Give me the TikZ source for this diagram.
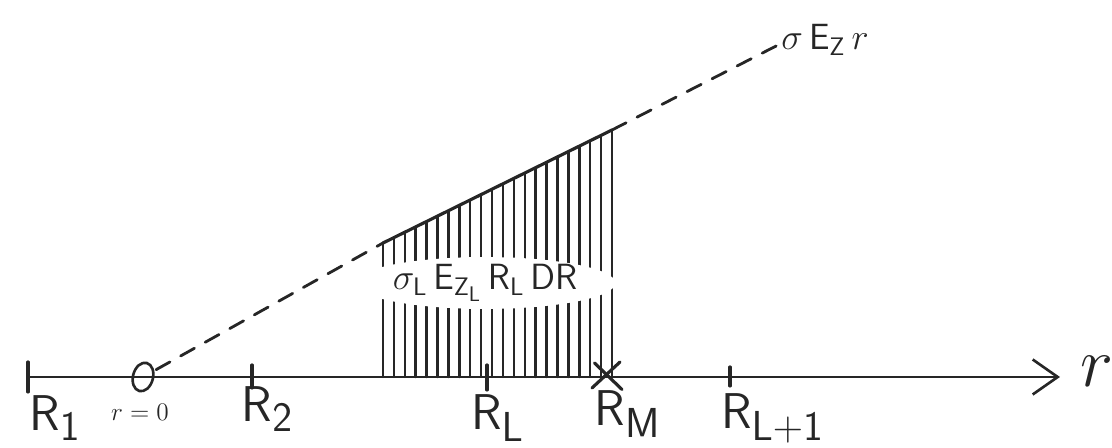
\documentclass[tikz,border=0pt]{standalone}
\usepackage{fix-cm}
\usetikzlibrary{calc, arrows.meta, shapes.geometric}

\begin{document}
\begin{tikzpicture}[line cap=round]
    % Fix the canvas
    \useasboundingbox (0,0) rectangle (22.24,8.96);

    % Define axis height and colours
    \def\axisY{1.42}
    \def\hatchCount{21}

    \definecolor{inkColour}{HTML}{262626}

    \tikzset{
        ink/.style={draw=inkColour, line width=1.5pt},
        hatch/.style={draw=inkColour, line width=1.4pt},
        guide/.style={draw=inkColour, line width=1.6pt, dash pattern=on 9pt off 7pt},
        tick/.style={draw=inkColour, line width=1.8pt},
        bigLabel/.style={text=inkColour, font=\Huge, scale=1.15},
        midLabel/.style={text=inkColour, font=\huge}
    }

    % Draw the r axis
    \coordinate (start) at (0.56,\axisY);
    \coordinate (end) at (21.2,\axisY);
    \draw[ink, -{Straight Barb[length=5mm, width=7mm]}] (start) -- (end);
    \node[bigLabel, scale=1.4, anchor=west] (rLabel) at (21.4,\axisY+0.12) {$r$};

    % Draw ticks on the axis
    \draw[tick] (0.56,\axisY+0.3) -- (0.56,\axisY-0.3);
    \draw[tick] (5.04,\axisY+0.24) -- (5.04,\axisY-0.22);
    \draw[tick] (9.74,\axisY+0.24) -- (9.74,\axisY-0.26);
    \draw[tick] (14.6,\axisY+0.2) -- (14.6,\axisY-0.18);

    % Origin and the cross at R_M
    \coordinate (origin) at (2.86,\axisY);
    \draw[ink, rotate around={-15:(origin)}] (origin) ellipse [x radius=0.2, y radius=0.29];
    \coordinate (rm) at (12.14,\axisY);
    \draw[tick] ($(rm)+(-0.25,0.28)$) -- ($(rm)+(0.3,-0.25)$);
    \draw[tick] ($(rm)+(-0.3,-0.22)$) -- ($(rm)+(0.26,0.3)$);

    % Labels under the axis
    \node[bigLabel] (r1Label) at (1.1,0.6) {$\mathsf{R}_{\mathsf{1}}$};
    \node[text=inkColour, font=\Large] (zeroLabel) at (2.8,0.72) {$r=0$};
    \node[bigLabel] (r2Label) at (5.35,0.78) {$\mathsf{R}_{\mathsf{2}}$};
    \node[bigLabel] (rlLabel) at (9.95,0.6) {$\mathsf{R}_{\mathsf{L}}$};
    \node[bigLabel] (rmLabel) at (12.55,0.68) {$\mathsf{R}_{\mathsf{M}}$};
    \node[bigLabel] (rl1Label) at (15.45,0.6) {$\mathsf{R}_{\mathsf{L+1}}$};

    % Corners of the shaded strip
    \coordinate (baseL) at (7.66,\axisY);
    \coordinate (baseR) at (12.24,\axisY);
    \coordinate (topL) at (7.66,4.1);
    \coordinate (topR) at (12.24,6.36);

    % Hatch the strip
    \foreach \i in {0,...,\hatchCount}
        \draw[hatch] ($(baseL)!\i/\hatchCount!(baseR)$) -- ($(topL)!\i/\hatchCount!(topR)$);
    \draw[ink, line width=1.8pt] (topL) -- (topR);

    % Label inside the strip
    \node[midLabel, ellipse, fill=white, inner sep=0pt, minimum width=4.0cm, minimum height=1.0cm] (stripLabel) at (9.7,3.3)
        {$\sigma_{\mathsf{L}}\,\mathsf{E}_{\mathsf{Z}_{\mathsf{L}}}\,\mathsf{R}_{\mathsf{L}}\,\mathsf{DR}$};

    % Dashed field line
    \node[midLabel] (fieldLabel) at (16.5,8.16) {$\sigma\,\mathsf{E}_{\mathsf{Z}}\,r$};
    \draw[guide, shorten <=0.3cm] (origin) -- (topL);
    \draw[guide] (topR) -- ($(fieldLabel.west)+(0.02,-0.12)$);

\end{tikzpicture}
\end{document}
